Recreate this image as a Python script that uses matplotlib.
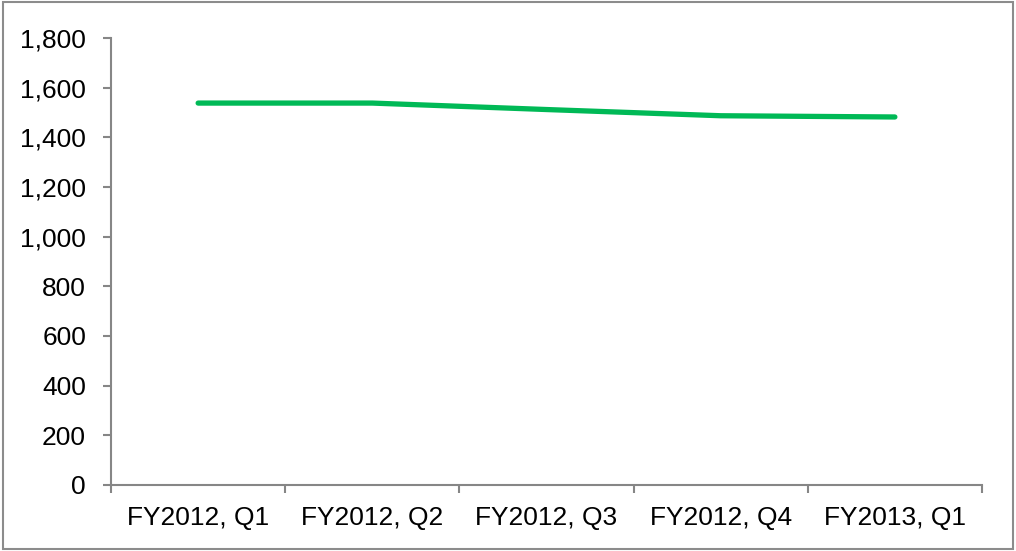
import numpy as np
import matplotlib.pyplot as plt
from matplotlib.patches import Rectangle
from matplotlib.ticker import FuncFormatter

quarters = ['FY2012, Q1', 'FY2012, Q2', 'FY2012, Q3', 'FY2012, Q4', 'FY2013, Q1']
values = [1538, 1538, 1512, 1487, 1482]

plt.rcParams['font.family'] = ['Liberation Sans', 'DejaVu Sans']
grey = '#868686'

fig = plt.figure(figsize=(10.16, 5.51), dpi=100)
ax = fig.add_axes([0.1093, 0.1198, 0.9665 - 0.1093, 0.931 - 0.1198])

x = np.arange(len(quarters))
ax.plot(x, values, color='#00B956', lw=3.8, solid_capstyle='round', solid_joinstyle='round')

ax.set_xlim(-0.5, len(quarters) - 0.5)
ax.set_ylim(0, 1800)
ax.set_yticks(np.arange(0, 1801, 200))
ax.yaxis.set_major_formatter(FuncFormatter(lambda v, p: f'{int(v):,}'))
ax.set_xticks(x)
ax.set_xticklabels(quarters)
ax.set_xticks(np.arange(-0.5, len(quarters), 1), minor=True)

ax.tick_params(axis='x', which='major', length=0, pad=15, labelsize=19)
ax.tick_params(axis='x', which='minor', length=6, width=1.5, color=grey, direction='out')
ax.tick_params(axis='y', length=6, width=1.5, color=grey, pad=12, labelsize=19)

for s in ['top', 'right']:
    ax.spines[s].set_visible(False)
for s in ['left', 'bottom']:
    ax.spines[s].set_color(grey)
    ax.spines[s].set_linewidth(1.5)

fig.patches.append(Rectangle((0.003, 0.004), 0.994, 0.992, transform=fig.transFigure,
                             fill=False, edgecolor='#8c8c8c', lw=1.5))

fig.savefig('out.png', dpi=100)
